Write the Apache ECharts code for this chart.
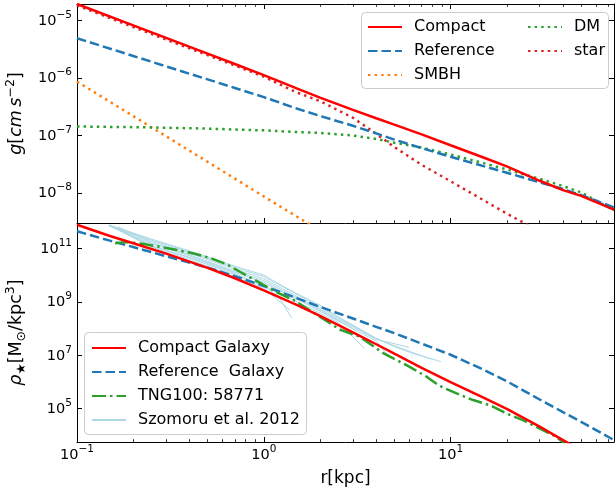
<!DOCTYPE html>
<html>
<head>
<meta charset="utf-8">
<script src="https://cdn.jsdelivr.net/npm/echarts@6/dist/echarts.min.js"></script>
<style>
  html, body { margin: 0; padding: 0; background: #ffffff; }
  #chart { width: 615px; height: 491px; }
</style>
</head>
<body>
<div id="chart"></div>
<script>
// ---- acceleration profiles g(r) [cm s^-2] ----
const rAccel = [0.1, 0.2, 0.3, 0.5, 0.7, 1, 1.5, 2, 3, 4, 5, 7, 10, 15, 20, 30, 40, 50, 75];
const gCompact = [1.95e-5, 8.28e-6, 5.02e-6, 2.67e-6, 1.76e-6, 1.13e-6, 6.6e-7, 4.58e-7, 2.80e-7, 2.0e-7,
                  1.55e-7, 1.05e-7, 6.78e-8, 4.15e-8, 2.90e-8, 1.63e-8, 1.12e-8, 8.9e-9, 5.13e-9];
const gReference = [4.94e-6, 2.43e-6, 1.60e-6, 9.5e-7, 6.73e-7, 4.67e-7, 2.95e-7, 2.19e-7, 1.48e-7, 1.09e-7,
                    8.5e-8, 6.04e-8, 4.27e-8, 2.93e-8, 2.25e-8, 1.53e-8, 1.17e-8, 9.2e-9, 5.6e-9];
const gDM = [1.435e-7, 1.40e-7, 1.365e-7, 1.32e-7, 1.27e-7, 1.23e-7, 1.15e-7, 1.11e-7, 1.0e-7, 8.7e-8,
             7.5e-8, 6.17e-8, 4.68e-8, 3.31e-8, 2.57e-8, 1.76e-8, 1.32e-8, 1.02e-8, 5.0e-9];
const rStar = [0.1, 0.2, 0.3, 0.5, 0.7, 1, 1.5, 2, 3, 4, 5, 7, 10, 15, 20, 30];
const gStar = [1.84e-5, 7.76e-6, 4.68e-6, 2.51e-6, 1.66e-6, 1.06e-6, 5.62e-7, 3.98e-7, 2.04e-7, 1.07e-7,
               6.31e-8, 3.09e-8, 1.60e-8, 7.5e-9, 4.37e-9, 2.14e-9];
const rSmbh = [0.1, 0.3, 1, 2];
const gSmbh = [8.7e-7, 9.7e-8, 8.7e-9, 2.2e-9];

// ---- stellar density profiles rho(r) [Msun / kpc^3] ----
const rDensity = [0.1, 0.15, 0.2, 0.3, 0.5, 0.7, 1, 1.5, 2, 3, 4, 5, 7, 10, 15, 20, 30, 40, 50, 75];
const rhoCompact = [7.9e11, 3.0e11, 1.6e11, 6.5e10, 1.9e10, 7.8e9, 2.75e9, 7.8e8, 3.0e8, 7.2e7,
                    2.6e7, 1.15e7, 3.4e6, 9.8e5, 2.6e5, 9.8e4, 2.1e4, 6.6e3, 2.7e3, 5.0e2];
const rhoReference = [4.5e11, 2.0e11, 1.15e11, 5.2e10, 1.95e10, 9.3e9, 4.0e9, 1.4e9, 6.6e8, 2.4e8,
                      1.17e8, 6.8e7, 2.75e7, 1.05e7, 2.9e6, 1.07e6, 2.2e5, 7.4e4, 3.2e4, 6.6e3];
const rTng = [0.16, 0.185, 0.228, 0.279, 0.343, 0.421, 0.516, 0.634, 0.778, 0.955, 1.175, 1.44, 1.77,
              2.55, 3.26, 4.36, 6.04, 7.41, 8.73, 10.7, 13.2, 16.2, 19.9, 24.4, 29.9, 36.7, 40.7];
const rhoTng = [1.6e11, 1.8e11, 1.5e11, 1.17e11, 8.9e10, 6.6e10, 4.5e10, 2.6e10, 1.15e10, 5.2e9, 2.3e9,
                1.2e9, 4.8e8, 9.3e7, 5.0e7, 1.2e7, 3.7e6, 1.6e6, 7.1e5, 3.8e5, 2.1e5, 1.35e5, 6.6e4,
                3.7e4, 1.8e4, 8.9e3, 5.0e3];

// Szomoru et al. (2012) observed profiles, one list per galaxy
const szomoruRadii = [
  [0.148, 0.25, 0.4, 0.63, 1.0, 1.26, 1.58, 2.0, 2.5, 3.16, 3.98, 5.0, 6.3, 8.9],
  [0.148, 0.25, 0.4, 0.63, 1.0, 1.58, 2.5, 3.98, 6.0],
  [0.15, 0.25, 0.4, 0.63, 1.0, 1.58, 2.5, 3.98, 4.55],
  [0.158, 0.25, 0.4, 0.63, 1.0, 1.58, 2.5, 3.47],
  [0.158, 0.25, 0.4, 0.63, 1.0, 1.38],
  [0.166, 0.25, 0.4, 0.63, 1.0, 1.2, 1.41],
  [0.166, 0.25, 0.4, 0.63, 1.0, 1.58, 2.5, 3.16],
  [0.148, 0.25, 0.4, 0.63, 1.0, 1.58, 2.5, 3.98, 6.3, 7.9]
];
const szomoruDensities = [
  [7.9e11, 2.3e11, 8.3e10, 2.8e10, 1.02e10, 4.0e9, 1.74e9, 7.6e8, 2.8e8, 1.12e8, 4.5e7, 2.1e7, 1.17e7, 5.8e6],
  [7.2e11, 1.9e11, 6.8e10, 2.2e10, 7.4e9, 1.35e9, 2.3e8, 4.0e7, 2.0e7],
  [6.9e11, 1.55e11, 5.4e10, 1.7e10, 5.4e9, 1.07e9, 1.95e8, 3.5e7, 1.12e7],
  [6.3e11, 1.3e11, 4.5e10, 1.4e10, 4.1e9, 8.7e8, 1.7e8, 1.8e7],
  [6.0e11, 1.15e11, 3.9e10, 1.2e10, 3.3e9, 5.0e8],
  [5.8e11, 1.26e11, 4.8e10, 1.6e10, 4.0e9, 1.6e9, 2.5e8],
  [6.6e11, 1.66e11, 5.9e10, 1.86e10, 6.3e9, 1.2e9, 2.1e8, 7.9e7],
  [7.6e11, 2.1e11, 7.6e10, 2.5e10, 8.9e9, 1.6e9, 2.6e8, 4.2e7, 1.26e7, 7.1e6]
];

// axis ranges and decade tick labels
const rRange = [0.1, 75];
const gRange = [3.0e-9, 1.95e-5];
const rhoRange = [5.6e3, 9.2e11];
const rTicks = [0.1, 1, 10];
const gTicks = [1e-8, 1e-7, 1e-6, 1e-5];
const rhoTicks = [1e5, 1e7, 1e9, 1e11];

const FONT = 'DejaVu Sans';
const pairs = (xs, ys) => xs.map((x, i) => [x, ys[i]]);

// decade labels written as 10 with a raised exponent
function powLabel(v) {
  const e = Math.round(Math.log10(v));
  return '{b|10}{s|' + (e < 0 ? '\u2212' : '') + Math.abs(e) + '}';
}
const powRich = {
  b: { fontFamily: FONT, fontSize: 14.5, color: '#000', lineHeight: 16, verticalAlign: 'bottom' },
  s: { fontFamily: FONT, fontSize: 10.5, color: '#000', lineHeight: 12, verticalAlign: 'bottom',
       padding: [0, 0, 8, 0] }
};

function logAxis(kind, gridIndex, position, range, ticks, showLabels, minor, extra) {
  const ax = {
    type: 'log', logBase: 10, gridIndex, position,
    min: range[0], max: range[1],
    axisLine: { show: true, onZero: false, lineStyle: { color: '#000', width: 1 } },
    axisTick: { show: true, inside: true, length: 5, customValues: ticks, lineStyle: { color: '#000', width: 1 } },
    minorTick: { show: minor, splitNumber: 9, length: 2.8, lineStyle: { color: '#000', width: 0.8 } },
    splitLine: { show: false },
    minorSplitLine: { show: false },
    axisLabel: {
      show: showLabels, customValues: ticks, formatter: powLabel, rich: powRich,
      margin: kind === 'x' ? 5 : 5
    }
  };
  return Object.assign(ax, extra || {});
}

const nameRich = {
  i: { fontFamily: FONT, fontSize: 17.5, fontStyle: 'italic', color: '#000' },
  n: { fontFamily: FONT, fontSize: 17.5, color: '#000' },
  sup: { fontFamily: FONT, fontSize: 12.5, color: '#000', verticalAlign: 'top', lineHeight: 24 },
  sub: { fontFamily: FONT, fontSize: 12.5, color: '#000', verticalAlign: 'bottom', lineHeight: 24 }
};

const styles = {
  compact: { color: '#ff0000', width: 2.5, type: 'solid' },
  reference: { color: '#1f77b4', width: 2.5, type: [9.5, 4] },
  smbh: { color: '#ff7f0e', width: 2.5, type: [2.5, 4.1] },
  dm: { color: '#2ca02c', width: 2.5, type: [2.5, 4.1] },
  star: { color: '#d62728', width: 2.5, type: [2.5, 4.1] },
  tng: { color: '#2ca02c', width: 2.5, type: [14, 4, 2.5, 4] },
  szomoru: { color: '#add8e6', width: 1, type: 'solid' }
};

function line(name, xi, yi, data, st, z) {
  return {
    name, type: 'line', xAxisIndex: xi, yAxisIndex: yi, data,
    showSymbol: false, symbol: 'none', smooth: false, clip: true, z: z || 2,
    itemStyle: { color: st.color },
    lineStyle: { color: st.color, width: st.width, type: st.type, cap: 'butt' },
    emphasis: { disabled: true }, animation: false
  };
}

const series = [
  line('Compact', 0, 0, pairs(rAccel, gCompact), styles.compact, 5),
  line('Reference', 0, 0, pairs(rAccel, gReference), styles.reference, 4),
  line('SMBH', 0, 0, pairs(rSmbh, gSmbh), styles.smbh, 3),
  line('DM', 0, 0, pairs(rAccel, gDM), styles.dm, 3),
  line('star', 0, 0, pairs(rStar, gStar), styles.star, 3)
];
szomoruRadii.forEach((rs, k) => {
  series.push(line('Szomoru et al. 2012', 2, 2, pairs(rs, szomoruDensities[k]), styles.szomoru, 2));
});
series.push(line('Compact Galaxy', 2, 2, pairs(rDensity, rhoCompact), styles.compact, 5));
series.push(line('Reference  Galaxy', 2, 2, pairs(rDensity, rhoReference), styles.reference, 4));
series.push(line('TNG100: 58771', 2, 2, pairs(rTng, rhoTng), styles.tng, 4));

const legendText = { fontFamily: FONT, fontSize: 16, color: '#000', padding: [0, 0, 0, 7] };
const legendBase = {
  orient: 'vertical', itemWidth: 34, itemHeight: 14, itemGap: 8, padding: 0,
  textStyle: legendText, selectedMode: false,
  itemStyle: { color: 'rgba(0,0,0,0)', borderWidth: 0, opacity: 0 }
};

const option = {
  backgroundColor: '#ffffff',
  animation: false,
  grid: [
    { left: 77, right: 1, top: 4, height: 219, outerBoundsMode: 'none', containLabel: false },
    { left: 77, right: 1, top: 223, height: 219, outerBoundsMode: 'none', containLabel: false }
  ],
  xAxis: [
    logAxis('x', 0, 'bottom', rRange, rTicks, false, true),
    logAxis('x', 0, 'top', rRange, rTicks, false, true),
    logAxis('x', 1, 'bottom', rRange, rTicks, true, true, {
      name: 'r[kpc]', nameLocation: 'middle', nameGap: 28,
      nameTextStyle: { fontFamily: FONT, fontSize: 17, color: '#000' }
    })
  ],
  yAxis: [
    logAxis('y', 0, 'left', gRange, gTicks, true, false, {
      name: '{i|g}{n|[}{i|cm\u2009s}{sup|\u22122}{n|]}', nameLocation: 'middle', nameGap: 49,
      nameTextStyle: { rich: nameRich }
    }),
    logAxis('y', 0, 'right', gRange, gTicks, false, false),
    logAxis('y', 1, 'left', rhoRange, rhoTicks, true, false, {
      name: '{i|\u03c1}{sub|\u2605}{n|[M}{sub|\u2299}{n|/kpc}{sup|3}{n|]}', nameLocation: 'middle', nameGap: 49,
      nameTextStyle: { rich: nameRich }
    }),
    logAxis('y', 1, 'right', rhoRange, rhoTicks, false, false)
  ],
  graphic: [
    { type: 'rect', z: 3, shape: { x: 361.5, y: 12.5, width: 247, height: 76, r: 4 },
      style: { fill: 'rgba(255,255,255,0.8)', stroke: '#cccccc', lineWidth: 1 } },
    { type: 'rect', z: 3, shape: { x: 84.5, y: 332.5, width: 222, height: 102, r: 4 },
      style: { fill: 'rgba(255,255,255,0.8)', stroke: '#cccccc', lineWidth: 1 } }
  ],
  legend: [
    Object.assign({}, legendBase, { left: 367, top: 19, data: ['Compact', 'Reference', 'SMBH'] }),
    Object.assign({}, legendBase, { left: 527, top: 19, data: ['DM', 'star'] }),
    Object.assign({}, legendBase, { left: 91, top: 340,
      data: ['Compact Galaxy', 'Reference  Galaxy', 'TNG100: 58771', 'Szomoru et al. 2012'] })
  ],
  series
};

const chart = echarts.init(document.getElementById('chart'), null, { renderer: 'canvas' });
chart.setOption(option);
</script>
</body>
</html>
